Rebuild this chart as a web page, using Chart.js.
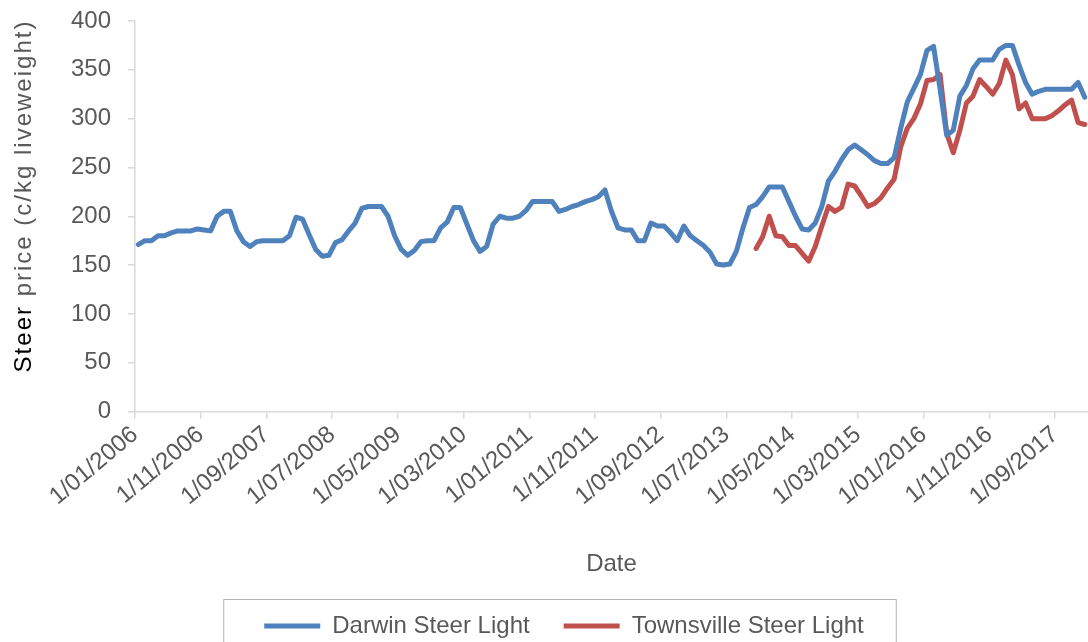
<!DOCTYPE html>
<html>
<head>
<meta charset="utf-8">
<script src="https://cdn.jsdelivr.net/npm/chart.js@4.4.1/dist/chart.umd.min.js"></script>
<style>
    html, body { margin: 0; padding: 0; background: #fff; }
</style>
</head>
<body>
<canvas id="diagram" width="1088" height="642"></canvas>
<script>
/**
* Etiketter för x-axeln, en var tionde månad från jan 2006
*/
const tickLabels = [
    '1/01/2006', '1/11/2006', '1/09/2007', '1/07/2008', '1/05/2009',
    '1/03/2010', '1/01/2011', '1/11/2011', '1/09/2012', '1/07/2013',
    '1/05/2014', '1/03/2015', '1/01/2016', '1/11/2016', '1/09/2017'
];

/**
* Darwin Steer Light, månadsvärden jan 2006 - jan 2018 (c/kg)
*/
const darwin = [
    171, 175, 175, 180, 180, 183, 185, 185, 185, 187,
    186, 185, 200, 205, 205, 185, 174, 169, 174, 175,
    175, 175, 175, 180, 199, 197, 181, 166, 159, 160,
    173, 176, 185, 193, 208, 210, 210, 210, 200, 180,
    166, 160, 165, 174, 175, 175, 188, 194, 209, 209,
    192, 175, 164, 169, 192, 200, 198, 198, 200, 206,
    215, 215, 215, 215, 205, 207, 210, 212, 215, 217,
    220, 227, 205, 188, 186, 186, 175, 175, 193, 190,
    190, 183, 175, 190, 180, 175, 170, 163, 151, 150,
    151, 164, 188, 209, 212, 220, 230, 230, 230, 215,
    200, 187, 186, 193, 210, 236, 246, 258, 268, 273,
    268, 263, 257, 254, 254, 260, 290, 317, 331, 345,
    370, 374, 330, 283, 288, 323, 334, 351, 360, 360,
    360, 371, 375, 375, 355, 337, 325, 328, 330, 330,
    330, 330, 330, 337, 322
];

/**
* Townsville Steer Light, börjar nov 2013 (månad nr 94)
*/
const townsvilleStart = 94;
const townsville = [
    167, 179, 200, 180, 179, 170, 170, 162, 154, 169,
    190, 210, 205, 209, 233, 231, 221, 210, 213, 219,
    229, 238, 271, 290, 300, 315, 339, 340, 345, 285,
    265, 288, 316, 323, 340, 333, 325, 336, 360, 345,
    310, 316, 300, 300, 300, 303, 308, 314, 319, 296,
    294
];

const textColor = '#595959';
const axisColor = '#D9D9D9';

Chart.defaults.font.family = "'Liberation Sans', Arial, sans-serif";

/**
* Ritar y-axelns titel, "Steer" i svart och resten i grått
*/
const yTitle = {
    id: 'yTitle',
    afterDraw(chart) {
        const ctx = chart.ctx;
        const parts = [['Steer', '#000000'], [' price (c/kg liveweight)', textColor]];
        ctx.save();
        ctx.font = "24px 'Liberation Sans', Arial, sans-serif";
        ctx.letterSpacing = '2px';
        ctx.textBaseline = 'middle';
        ctx.textAlign = 'left';
        const total = parts.reduce((s, p) => s + ctx.measureText(p[0]).width, 0);
        ctx.translate(24, 196);
        ctx.rotate(-Math.PI / 2);
        let x = -total / 2;
        parts.forEach(p => {
            ctx.fillStyle = p[1];
            ctx.fillText(p[0], x, 0);
            x += ctx.measureText(p[0]).width;
        });
        ctx.restore();
    }
};

/**
* Ram runt förklaringen
*/
const legendFrame = {
    id: 'legendFrame',
    afterDraw(chart) {
        const boxes = chart.legend.legendHitBoxes;
        if (!boxes || !boxes.length) return;
        const first = boxes[0];
        const last = boxes[boxes.length - 1];
        const ctx = chart.ctx;
        ctx.save();
        ctx.strokeStyle = '#B4B4B4';
        ctx.lineWidth = 1;
        ctx.strokeRect(first.left - 40.5, first.top - 14.5, last.left + last.width - first.left + 73, 70);
        ctx.restore();
    }
};

/**
* Skapar linjediagrammet
*/
function createChart() {
    const ctx = document.getElementById('diagram').getContext('2d');

    new Chart(ctx, {
        type: 'line',
        data: {
            datasets: [
                {
                    label: 'Darwin Steer Light',
                    data: darwin.map((v, i) => ({ x: i + 0.5, y: v })),
                    borderColor: '#4F81BD',
                    backgroundColor: '#4F81BD',
                    borderWidth: 5,
                    borderCapStyle: 'round',
                    borderJoinStyle: 'round',
                    pointRadius: 0,
                    tension: 0
                },
                {
                    label: 'Townsville Steer Light',
                    data: townsville.map((v, i) => ({ x: townsvilleStart + i + 0.5, y: v })),
                    borderColor: '#C0504D',
                    backgroundColor: '#C0504D',
                    borderWidth: 5,
                    borderCapStyle: 'round',
                    borderJoinStyle: 'round',
                    pointRadius: 0,
                    tension: 0
                }
            ]
        },
        options: {
            responsive: false,
            animation: false,
            layout: { padding: { left: 40, right: 0, top: 21, bottom: -6 } },
            plugins: {
                tooltip: { enabled: false },
                legend: {
                    position: 'bottom',
                    labels: {
                        usePointStyle: true,
                        pointStyle: 'line',
                        pointStyleWidth: 56,
                        padding: 34,
                        color: textColor,
                        font: { size: 24 }
                    }
                }
            },
            scales: {
                x: {
                    type: 'linear',
                    min: 0,
                    max: 145,
                    border: { color: axisColor, width: 1.5 },
                    grid: { drawOnChartArea: false, drawTicks: true, tickLength: 7, color: axisColor, lineWidth: 1.5 },
                    ticks: {
                        stepSize: 10,
                        includeBounds: false,
                        autoSkip: false,
                        minRotation: 40,
                        maxRotation: 40,
                        padding: 2,
                        color: textColor,
                        font: { size: 24 },
                        callback: v => tickLabels[v / 10]
                    },
                    title: {
                        display: true,
                        text: 'Date',
                        color: textColor,
                        font: { size: 24 },
                        padding: { top: 37, bottom: 1 }
                    }
                },
                y: {
                    min: 0,
                    max: 400,
                    border: { color: axisColor, width: 1.5 },
                    grid: { drawOnChartArea: false, drawTicks: true, tickLength: 7, color: axisColor, lineWidth: 1.5 },
                    ticks: {
                        stepSize: 50,
                        padding: 17,
                        color: textColor,
                        font: { size: 24 }
                    },
                    afterFit(scale) {
                        scale.width = 95;
                        scale.paddingTop = 0;
                    }
                }
            }
        },
        plugins: [yTitle, legendFrame]
    });
}

window.onload = createChart;
</script>
</body>
</html>
